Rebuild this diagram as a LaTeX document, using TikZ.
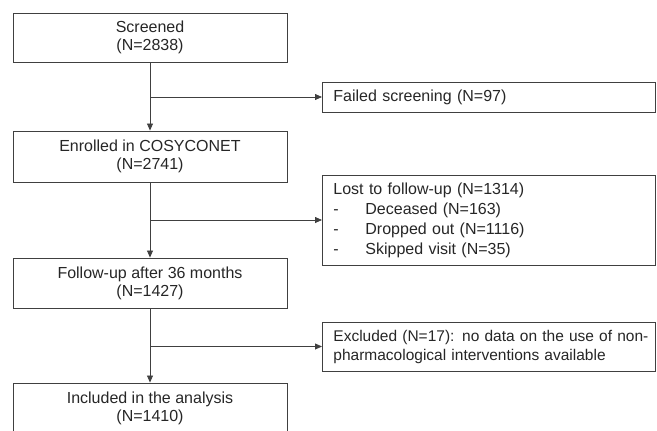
\documentclass[tikz,border=0pt]{standalone}
\usepackage{fontspec}
\setmainfont{Liberation Sans}
\usetikzlibrary{positioning, arrows.meta, calc}

\begin{document}
\begin{tikzpicture}[
    x=1pt, y=-1pt,
    font=\fontsize{16}{18}\selectfont,
    mainbox/.style={rectangle, draw=black!75, line width=0.9pt, text=black!85, minimum width=274pt, minimum height=50pt, align=center, inner sep=0pt},
    sidebox/.style={rectangle, draw=black!75, line width=0.9pt, text=black!85, minimum width=333pt, anchor=west, align=left, inner xsep=11pt, inner ysep=0pt, text width=311pt},
    arrow/.style={-{Triangle[length=7pt, width=6pt]}, draw=black!75, line width=0.8pt}
]
    \useasboundingbox (0,0) rectangle (657,431);
    \clip (0,0) rectangle (657,431);

    % Main flow
    \node[mainbox, minimum height=49pt] (screened) at (150,37.5) {Screened\\(N=2838)};
    \node[mainbox, minimum height=51pt] (enrolled) at (150,156.5) {Enrolled in COSYCONET\\(N=2741)};
    \node[mainbox] (followup) at (150,283) {Follow-up after 36 months\\(N=1427)};
    \node[mainbox] (included) at (150,408) {Included in the analysis\\(N=1410)};

    % Exclusions
    \node[sidebox, minimum height=30pt] (failed) at (322,97) {Failed screening (N=97)};
    \node[sidebox, minimum height=90pt, font=\fontsize{16}{20}\selectfont] (lost) at (322,220)
        {Lost to follow-up (N=1314)\\
         \makebox[32pt][l]{-}Deceased (N=163)\\
         \makebox[32pt][l]{-}Dropped out (N=1116)\\
         \makebox[32pt][l]{-}Skipped visit (N=35)};
    \node[sidebox, minimum height=49pt, font=\fontsize{15.5}{19}\selectfont] (excluded) at (322,346.5)
        {\makebox[311pt][l]{Excluded (N=17): no data on the use of non-}\\
         pharmacological interventions available};

    % Arrows
    \draw[arrow] (screened) -- (enrolled);
    \draw[arrow] (enrolled) -- (followup);
    \draw[arrow] (followup) -- (included);
    \draw[arrow] (screened.south |- failed.west) -- (failed.west);
    \draw[arrow] (enrolled.south |- lost.west) -- (lost.west);
    \draw[arrow] (followup.south |- excluded.west) -- (excluded.west);
\end{tikzpicture}
\end{document}
